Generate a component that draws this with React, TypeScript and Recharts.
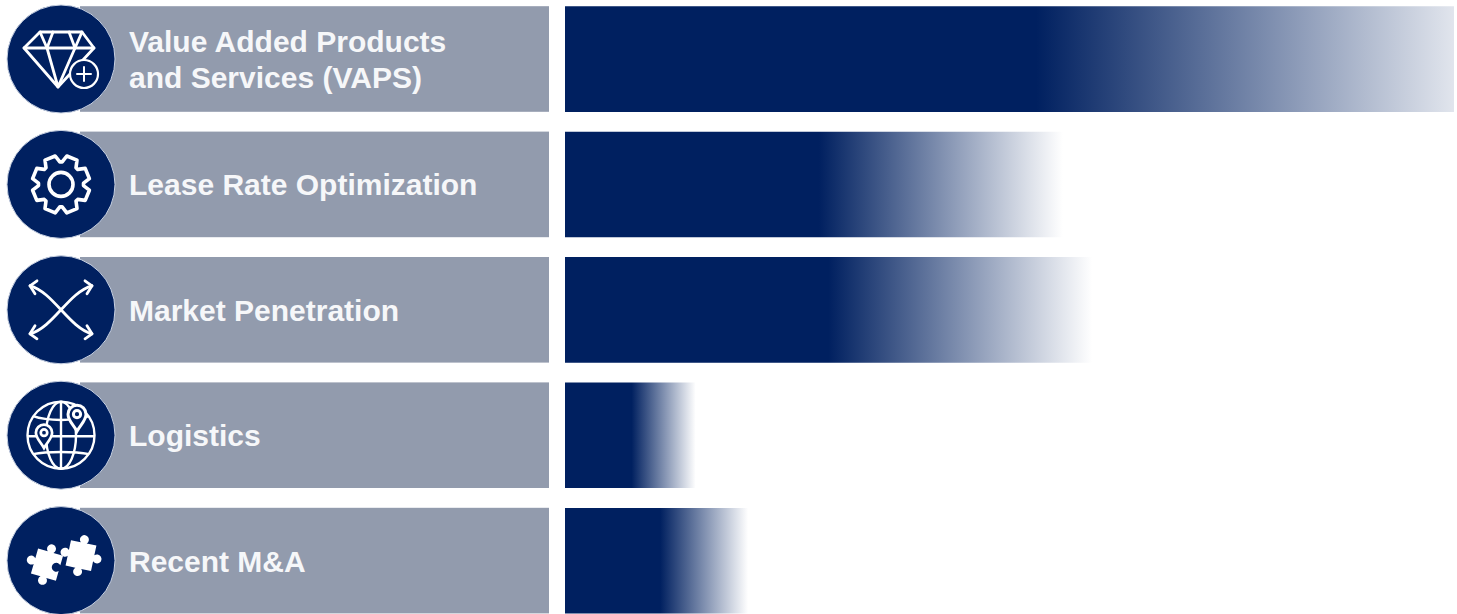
import React from "react";
import { BarChart, Bar, Cell, XAxis, YAxis } from "recharts";

const CATEGORIES = ["VAPS", "Lease Rate", "Market", "Logistics", "M&A"];
const LABEL_LINES = [
  ["Value Added Products", "and Services (VAPS)"],
  ["Lease Rate Optimization"],
  ["Market Penetration"],
  ["Logistics"],
  ["Recent M&A"],
];
const VALUES = [100, 56, 59.3, 14.7, 20.6];
const FADE_STARTS = ["53%", "51%", "50%", "51%", "52%"];
const FADE_ENDS = ["#e1e5ed", "#ffffff", "#ffffff", "#ffffff", "#ffffff"];

const NAVY = "#002060";
const BAND = "#929bad";
const BAND_HEIGHT = 105.6;

const chartData = CATEGORIES.map((name, i) => ({ name, value: VALUES[i] }));

const DiamondIcon = () => (
  <g fill="none" stroke="#fff" strokeWidth={2.8} strokeLinejoin="round" strokeLinecap="round">
    <path d="M-21,-27 L21,-27 L33,-11 L-3,28 L-37,-11 Z" />
    <path d="M-37,-11 L33,-11" />
    <path d="M-8,-27 L-14,-11 L-3,28 L14,-11 L8,-27" />
    <path d="M-21,-27 L-14,-11 M21,-27 L14,-11" />
    <circle cx={23} cy={15} r={14} fill={NAVY} strokeWidth={2.2} />
    <path d="M23,8 L23,22 M16,15 L30,15" strokeWidth={2} />
  </g>
);

// eight-tooth cog outline around the origin
const gearPath = () => {
  const points: string[] = [];
  for (let i = 0; i < 8; i++) {
    const a = (i * Math.PI) / 4 + Math.PI / 8;
    const offsets = [
      [22.5, -0.34],
      [29, -0.19],
      [29, 0.19],
      [22.5, 0.34],
    ];
    offsets.forEach(([r, d]) => {
      points.push(`${(r * Math.cos(a + d)).toFixed(1)},${(r * Math.sin(a + d)).toFixed(1)}`);
    });
  }
  return `M${points.join(" L")} Z`;
};

const GearIcon = () => (
  <g fill="none" stroke="#fff" strokeWidth={3.6} strokeLinejoin="round">
    <path d={gearPath()} />
    <circle r={12} />
  </g>
);

const ArrowsIcon = () => (
  <g fill="none" stroke="#fff" strokeWidth={2.8} strokeLinejoin="round" strokeLinecap="round">
    <path d="M-31,-24 C-8,-18 8,18 31,24" />
    <path d="M-31,24 C-8,18 8,-18 31,-24" />
    <path d="M-24,-29 L-31,-24 L-26,-16" />
    <path d="M24,-29 L31,-24 L26,-16" />
    <path d="M-24,29 L-31,24 L-26,16" />
    <path d="M24,29 L31,24 L26,16" />
  </g>
);

const Pin = ({ x, y, s }: { x: number; y: number; s: number }) => (
  <g transform={`translate(${x},${y}) scale(${s})`}>
    <path
      d="M0,12 C-4,5 -9,1 -9,-5 A9,9 0 1 1 9,-5 C9,1 4,5 0,12 Z"
      fill={NAVY}
      stroke="#fff"
      strokeWidth={3}
    />
    <circle cy={-5} r={3.6} fill="none" stroke="#fff" strokeWidth={3} />
  </g>
);

const GlobeIcon = () => (
  <g fill="none" stroke="#fff" strokeWidth={2.4}>
    <circle r={33.5} />
    <ellipse rx={15} ry={33.5} />
    <path d="M0,-33.5 L0,33.5" />
    <path d="M-33.5,1 L33.5,1" />
    <path d="M-28,-19 C-14,-14 14,-14 28,-19" />
    <path d="M-28,19 C-14,16 14,16 28,19" />
    <Pin x={16} y={-16} s={1} />
    <Pin x={-17} y={2} s={0.9} />
  </g>
);

const PIECE_LEFT =
  "M-13,-13 L-3,-13 A4.5,4.5 0 1 1 3,-13 L13,-13 L13,-3 A4.5,4.5 0 1 0 13,3 L13,13 L3,13 A4.5,4.5 0 1 1 -3,13 L-13,13 L-13,3 A4.5,4.5 0 1 1 -13,-3 Z";
const PIECE_RIGHT =
  "M-13,-13 L-3,-13 A4.5,4.5 0 1 1 3,-13 L13,-13 L13,-3 A4.5,4.5 0 1 1 13,3 L13,13 L3,13 A4.5,4.5 0 1 1 -3,13 L-13,13 L-13,3 A4.5,4.5 0 1 1 -13,-3 Z";

const PuzzleIcon = () => (
  <g fill="#fff">
    <path d={PIECE_LEFT} transform="translate(-14,4) rotate(16)" />
    <path d={PIECE_RIGHT} transform="translate(20,-5) rotate(12)" />
  </g>
);

const ICONS = [DiamondIcon, GearIcon, ArrowsIcon, GlobeIcon, PuzzleIcon];

// Left-hand row header: grey band, navy badge with icon, white label
const RowHeader = ({ y, index }: any) => {
  const Icon = ICONS[index];
  const lines = LABEL_LINES[index];
  const lineGap = 36;
  const firstY = y - ((lines.length - 1) * lineGap) / 2;
  return (
    <g>
      <rect x={80} y={y - BAND_HEIGHT / 2} width={469} height={BAND_HEIGHT} fill={BAND} />
      <circle cx={61} cy={y} r={54} fill={NAVY} stroke="#c9d2e2" strokeWidth={1} />
      <g transform={`translate(61,${y})`}>
        <Icon />
      </g>
      {lines.map((line, i) => (
        <text
          key={line}
          x={129}
          y={firstY + i * lineGap + 0.5}
          dy="0.35em"
          fill="#f6f7f9"
          fontFamily="'Liberation Sans', Arial, sans-serif"
          fontWeight={700}
          fontSize={30}
        >
          {line}
        </text>
      ))}
    </g>
  );
};

export default function App() {
  return (
    <div style={{ position: "absolute", left: 0, top: 0, width: 1457, height: 614, background: "#fff" }}>
      <BarChart
        width={1457}
        height={614}
        data={chartData}
        layout="vertical"
        barCategoryGap={0}
        margin={{ top: -3.7, right: 3, bottom: -9.3, left: 0 }}
      >
        <defs>
          {CATEGORIES.map((name, i) => (
            <linearGradient key={name} id={`fade-${i}`} x1="0" y1="0" x2="1" y2="0">
              <stop offset={FADE_STARTS[i]} stopColor={NAVY} />
              <stop offset="100%" stopColor={FADE_ENDS[i]} />
            </linearGradient>
          ))}
        </defs>
        <XAxis type="number" domain={[0, 100]} hide />
        <YAxis
          type="category"
          dataKey="name"
          width={565}
          interval={0}
          axisLine={false}
          tickLine={false}
          tick={<RowHeader />}
        />
        <Bar dataKey="value" barSize={BAND_HEIGHT} isAnimationActive={false}>
          {chartData.map((entry, i) => (
            <Cell key={entry.name} fill={`url(#fade-${i})`} />
          ))}
        </Bar>
      </BarChart>
    </div>
  );
}
